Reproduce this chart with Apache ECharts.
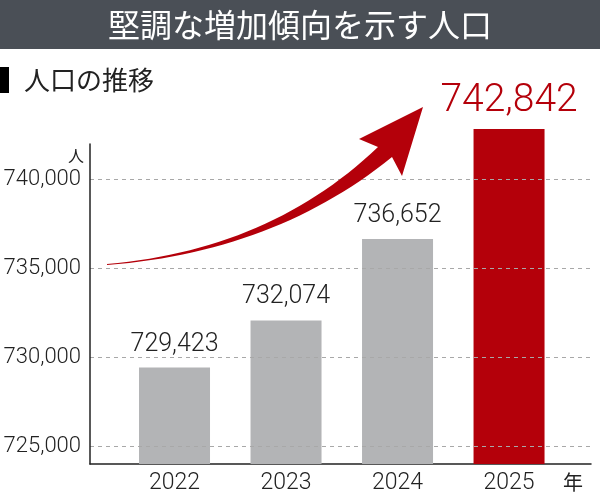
<!DOCTYPE html>
<html lang="ja">
<head>
  <meta charset="UTF-8">
  <title>人口の推移</title>
  <script src="https://cdn.jsdelivr.net/npm/echarts@6/dist/echarts.min.js"></script>
  <style>
    html, body { margin: 0; padding: 0; background: #fff; }
  </style>
</head>
<body>
  <div id="main" style="width: 600px;height:492px;"></div>
<script type="text/javascript">
  // data
  var years = [2022, 2023, 2024, 2025];
  var population = [729423, 732074, 736652, 742842];
  var yTicks = [725000, 730000, 735000, 740000];

  var Y_MIN = 724000;
  var BAR_W = 71;
  var NUM_FONT = "Roboto, 'Liberation Sans', sans-serif";
  var JP_FONT = "'Noto Sans CJK JP', 'Noto Sans', sans-serif";
  var GRAY = '#b3b4b6';
  var RED = '#b4000a';

  function fmt(v) {
    return Number(v).toLocaleString('en-US');
  }

  // sample a quadratic bezier into polygon points
  function quad(p0, c, p1, n) {
    var pts = [];
    for (var i = 0; i <= n; i++) {
      var t = i / n, u = 1 - t;
      pts.push([u * u * p0[0] + 2 * u * t * c[0] + t * t * p1[0],
                u * u * p0[1] + 2 * u * t * c[1] + t * t * p1[1]]);
    }
    return pts;
  }

  // decorative rising arrow outline
  var arrowPts = quad([107, 264], [270, 250], [378, 147], 30)
    .concat([[359, 139], [423, 107], [402, 176]])
    .concat(quad([392, 157], [275, 252], [107, 265], 30));

  var seriesData = years.map(function (y, i) { return [y, population[i]]; });

  // bar drawn from the axis floor up to the value, label on top
  function renderBar(params, api) {
    var x = api.value(0), v = api.value(1);
    var top = api.coord([x, v]);
    var base = api.coord([x, Y_MIN]);
    var last = params.dataIndex === years.length - 1;
    var fs = last ? 39 : 25;
    return {
      type: 'group',
      children: [{
        type: 'rect',
        shape: { x: top[0] - BAR_W / 2, y: top[1], width: BAR_W, height: base[1] - top[1] },
        style: { fill: last ? RED : GRAY }
      }, {
        type: 'text',
        x: top[0],
        y: top[1] - (16 - 0.21 * fs),
        style: {
          text: fmt(v),
          fill: last ? RED : '#222',
          font: '300 ' + fs + 'px ' + NUM_FONT,
          align: 'center',
          verticalAlign: 'bottom'
        }
      }]
    };
  }

  var app = echarts.init(document.getElementById('main'));

  var option = {
    animation: false,
    grid: { left: 90, right: 9, top: 144, bottom: 28, outerBoundsMode: 'none' },
    xAxis: {
      type: 'value',
      min: 2021.242,
      max: 2025.735,
      name: '年',
      nameLocation: 'end',
      nameGap: -18,
      nameTextStyle: {
        fontFamily: JP_FONT, fontSize: 20, color: '#222',
        align: 'center', verticalAlign: 'top', padding: [8, 0, 0, 0]
      },
      axisLine: { show: true, lineStyle: { color: '#222', width: 1.5 } },
      axisTick: { show: false, customValues: years },
      splitLine: { show: false },
      axisLabel: {
        customValues: years,
        margin: 8,
        fontFamily: NUM_FONT, fontWeight: 300, fontSize: 23, color: '#222',
        formatter: function (v) { return String(v); }
      }
    },
    yAxis: {
      type: 'value',
      min: Y_MIN,
      max: 742000,
      z: 3,
      name: '人',
      nameLocation: 'end',
      nameGap: -12,
      nameTextStyle: {
        fontFamily: JP_FONT, fontSize: 16, color: '#222',
        align: 'right', verticalAlign: 'middle', padding: [0, 6, 0, 0]
      },
      axisLine: { show: true, lineStyle: { color: '#222', width: 1.5 } },
      axisTick: { show: false, customValues: yTicks },
      axisLabel: {
        customValues: yTicks,
        margin: 9,
        fontFamily: NUM_FONT, fontWeight: 300, fontSize: 22, color: '#222',
        formatter: fmt
      },
      splitLine: {
        show: true,
        lineStyle: { color: '#a8a8a8', width: 1, type: [4, 4] }
      }
    },
    series: [{
      type: 'custom',
      z: 1,
      clip: false,
      encode: { x: 0, y: 1 },
      renderItem: renderBar,
      data: seriesData
    }],
    graphic: [
      { type: 'rect', x: 0, y: 0, shape: { width: 600, height: 49 }, style: { fill: '#4a4f56' } },
      {
        type: 'text', x: 300, y: 25,
        style: {
          text: '堅調な増加傾向を示す人口', fill: '#fff',
          font: '32px ' + JP_FONT, align: 'center', verticalAlign: 'middle'
        }
      },
      { type: 'rect', x: 0, y: 67, shape: { width: 9, height: 26 }, style: { fill: '#000' } },
      {
        type: 'text', x: 24, y: 80,
        style: {
          text: '人口の推移', fill: '#222',
          font: '26px ' + JP_FONT, align: 'left', verticalAlign: 'middle'
        }
      },
      {
        type: 'polygon', z: 10,
        shape: { points: arrowPts },
        style: { fill: RED }
      }
    ]
  };

  app.setOption(option);
</script>
</body>
</html>
